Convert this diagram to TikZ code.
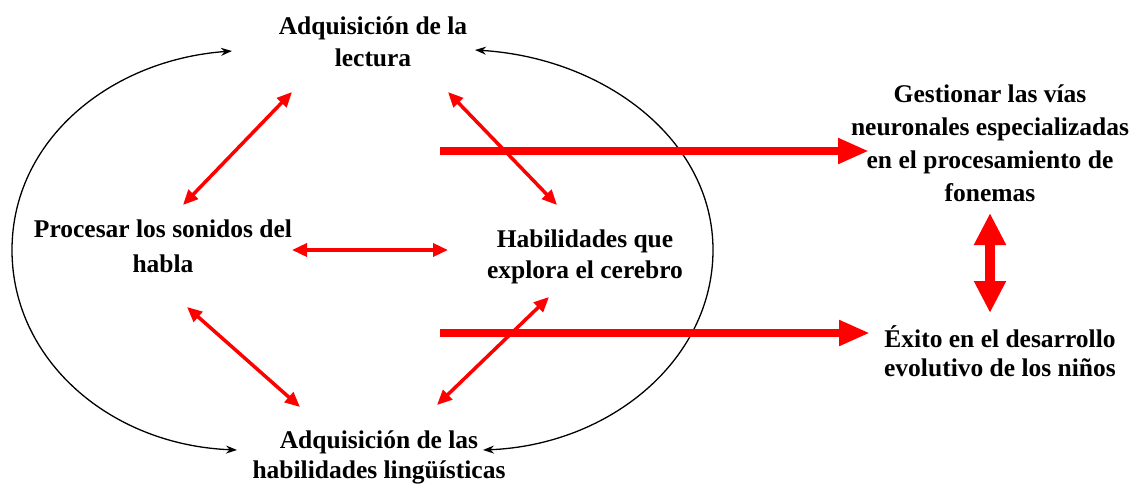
\documentclass[tikz,border=0pt]{standalone}
\usepackage{fontspec}
\setmainfont{Liberation Serif}
\usetikzlibrary{arrows.meta}
\begin{document}
\begin{tikzpicture}[x=1pt,y=-1pt,
  lbl/.style={align=center,inner sep=0pt},
  fs/.style={font=\fontsize{25.5}{#1}\selectfont\bfseries},
  redarr/.style={draw=red,line width=3.5pt,{Triangle[length=15pt,width=13pt]}-{Triangle[length=15pt,width=13pt]}},
  bigarr/.style={draw=red,line width=8pt,-{Triangle[length=31pt,width=24pt]}},
  vertarr/.style={draw=red,line width=10pt,{Triangle[length=32pt,width=30pt]}-{Triangle[length=32pt,width=30pt]}},
  blackarr/.style={draw=black,line width=1.3pt,{Stealth[length=11pt,width=8pt]}-{Stealth[length=11pt,width=8pt]}}
]
\useasboundingbox (0,0) rectangle (1135,485);

% texts
\node[lbl,fs=32] (lect) at (373,42) {Adquisición de la\\lectura};
\node[lbl,fs=35] (proc) at (163,246) {Procesar los sonidos del\\habla};
\node[lbl,fs=31] (hab) at (585,256.5) {Habilidades que\\explora el cerebro};
\node[lbl,fs=30] (ling) at (379,457) {Adquisición de las\\habilidades lingüísticas};
\node[lbl,fs=33] (gest) at (990,143.5) {Gestionar las vías\\neuronales especializadas\\en el procesamiento de\\fonemas};
\node[lbl,fs=29] (exito) at (1000,351) {Éxito en el desarrollo\\evolutivo de los niños};

% black curves
\coordinate (lt) at (232,51);
\coordinate (lb) at (237,450);
\coordinate (rt) at (475,50);
\coordinate (rb) at (483,450);
\draw[blackarr] (lt) .. controls (110,60) and (12,140) .. (12,250)
  .. controls (12,360) and (110,445) .. (lb);
\draw[blackarr] (rt) .. controls (605,58) and (713,140) .. (713,250)
  .. controls (713,360) and (610,445) .. (rb);

% red double arrows
\coordinate (a1) at (292,92);  \coordinate (a2) at (183,205);
\coordinate (b1) at (448,92);  \coordinate (b2) at (557,205);
\coordinate (c1) at (292,250); \coordinate (c2) at (448,250);
\coordinate (d1) at (187,307); \coordinate (d2) at (300,407);
\coordinate (e1) at (549,297); \coordinate (e2) at (437,405);
\draw[redarr] (a1) -- (a2);
\draw[redarr] (b1) -- (b2);
\draw[redarr] (c1) -- (c2);
\draw[redarr] (d1) -- (d2);
\draw[redarr] (e1) -- (e2);

% thick arrows
\coordinate (f1) at (440,151); \coordinate (f2) at (869,151);
\coordinate (g1) at (440,333); \coordinate (g2) at (870,333);
\draw[bigarr] (f1) -- (f2);
\draw[bigarr] (g1) -- (g2);

% vertical
\coordinate (v1) at (990,213); \coordinate (v2) at (990,313);
\draw[vertarr] (v1) -- (v2);
\end{tikzpicture}
\end{document}
